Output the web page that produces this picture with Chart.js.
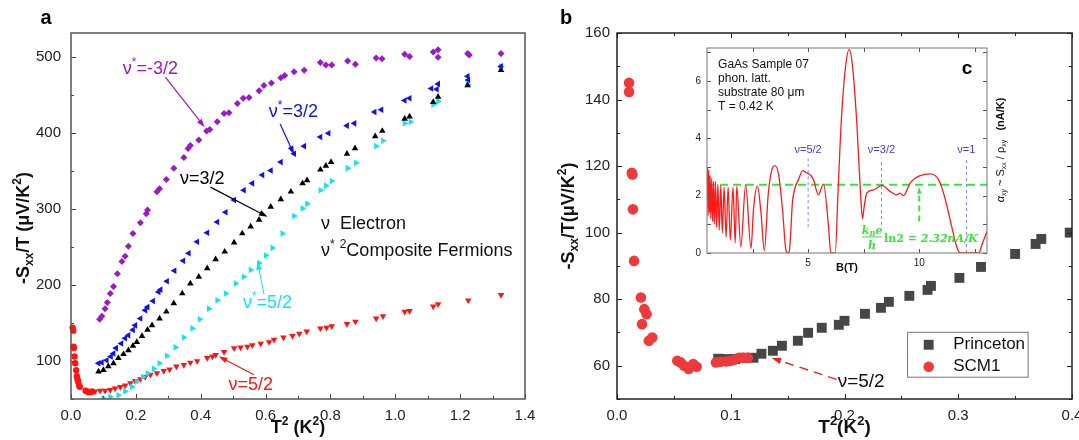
<!DOCTYPE html>
<html>
<head>
<meta charset="utf-8">
<script src="https://cdn.jsdelivr.net/npm/chart.js@4.4.1/dist/chart.umd.min.js"></script>
<style>
  body { margin: 0; background: #fff; width: 1079px; height: 440px; position: relative; overflow: hidden; }
  canvas { position: absolute; }
  #chartA { left: 0; top: 0; }
  #chartB { left: 540px; top: 0; }
  #chartC { left: 685px; top: 40px; }
</style>
</head>
<body>
<canvas id="chartA" width="540" height="440"></canvas>
<canvas id="chartB" width="539" height="440"></canvas>
<canvas id="chartC" width="327" height="240"></canvas>
<script>
const FONT = "'Liberation Sans', Arial, sans-serif";

// ---- panel a : [T^2 (K^2), -Sxx/T (uV/K^2)]
const cfMinus3_2 = [[0.088,155],[0.095,159],[0.105,169],[0.112,177],[0.121,189],[0.131,198],[0.143,215],[0.157,231],[0.167,238],[0.177,251],[0.191,268],[0.214,282],[0.232,294],[0.236,299],[0.265,323],[0.273,327],[0.294,339],[0.317,354],[0.348,368],[0.361,380],[0.368,384],[0.394,391],[0.418,403],[0.428,405],[0.451,415],[0.472,426],[0.487,427],[0.513,439],[0.531,446],[0.549,447],[0.58,456],[0.595,463],[0.618,466],[0.647,473],[0.659,476],[0.688,481],[0.719,483],[0.769,493],[0.786,490],[0.804,490],[0.853,495],[0.877,491],[0.941,499],[0.959,498],[1.029,504],[1.044,501],[1.117,507],[1.132,510],[1.132,500],[1.223,505],[1.228,503],[1.326,505]];
const cf3_2 = [[0.085,97],[0.095,98],[0.11,101],[0.123,106],[0.131,110],[0.139,117],[0.155,123],[0.167,130],[0.177,134],[0.191,141],[0.198,147],[0.214,156],[0.229,167],[0.236,171],[0.253,179],[0.27,191],[0.276,194],[0.296,205],[0.319,219],[0.346,232],[0.363,242],[0.389,257],[0.42,269],[0.451,283],[0.477,296],[0.503,312],[0.533,325],[0.559,334],[0.59,345],[0.616,351],[0.647,362],[0.688,373],[0.719,383],[0.769,395],[0.794,400],[0.851,410],[0.874,413],[0.936,428],[0.957,431],[1.029,443],[1.044,446],[1.111,459],[1.128,458],[1.132,465],[1.223,475],[1.225,470],[1.326,488]];
const el3_2 = [[0.085,86],[0.1,88],[0.115,93],[0.131,97],[0.146,104],[0.162,109],[0.177,114],[0.191,120],[0.203,125],[0.219,133],[0.236,141],[0.25,147],[0.273,156],[0.294,165],[0.317,176],[0.343,189],[0.368,202],[0.394,211],[0.42,222],[0.446,234],[0.474,244],[0.503,256],[0.528,268],[0.554,277],[0.58,286],[0.616,303],[0.647,313],[0.678,323],[0.714,334],[0.728,338],[0.769,352],[0.786,357],[0.802,362],[0.851,373],[0.876,380],[0.938,396],[0.96,403],[1.029,419],[1.044,422],[1.117,441],[1.132,448],[1.223,463],[1.326,483]];
const cf5_2 = [[0.1,51],[0.121,53],[0.146,55],[0.167,60],[0.188,66],[0.203,73],[0.222,79],[0.236,84],[0.255,90],[0.273,97],[0.296,107],[0.322,118],[0.348,131],[0.374,143],[0.397,155],[0.425,169],[0.451,180],[0.477,189],[0.508,202],[0.533,211],[0.554,220],[0.58,229],[0.601,239],[0.621,249],[0.652,268],[0.688,291],[0.714,301],[0.728,307],[0.769,325],[0.786,331],[0.804,337],[0.853,354],[0.879,361],[0.941,383],[0.962,390],[1.029,413],[1.047,415],[1.117,438],[1.132,442],[1.223,464],[1.326,488]];
const el5_2 = [[0.074,60],[0.09,61],[0.105,61],[0.121,62],[0.136,64],[0.152,66],[0.167,68],[0.183,71],[0.198,74],[0.214,76],[0.229,79],[0.245,82],[0.265,84],[0.286,87],[0.304,89],[0.325,93],[0.348,95],[0.368,98],[0.389,100],[0.42,104],[0.436,106],[0.446,108],[0.472,112],[0.503,117],[0.523,118],[0.544,119],[0.559,121],[0.585,123],[0.611,125],[0.626,128],[0.655,131],[0.683,133],[0.704,136],[0.727,139],[0.769,143],[0.788,144],[0.804,146],[0.851,149],[0.877,152],[0.941,156],[0.962,159],[1.029,165],[1.044,166],[1.117,172],[1.132,175],[1.225,180],[1.326,187]];
const el5_2Low = [[0.005,144],[0.007,140],[0.008,119],[0.009,117],[0.011,106],[0.013,97],[0.016,88],[0.018,80],[0.02,76],[0.022,73],[0.025,68],[0.027,66],[0.045,61],[0.05,60],[0.055,59],[0.06,59],[0.065,60]];

// ---- panel b
const princeton = [[0.089,62.1],[0.097,62],[0.104,62],[0.112,62.4],[0.12,62.4],[0.127,63.6],[0.137,64.5],[0.145,66],[0.159,67.5],[0.168,69.9],[0.18,71.4],[0.195,72.3],[0.2,73.5],[0.218,75.6],[0.232,77.4],[0.239,79.2],[0.257,81],[0.273,82.8],[0.276,84],[0.301,86.4],[0.32,89.7],[0.35,93.6],[0.368,96.6],[0.373,98.1],[0.398,100]];
const scm1 = [[0.0106,145],[0.0106,142.3],[0.013,118],[0.0135,117.5],[0.014,107],[0.015,91.5],[0.021,80.5],[0.024,77],[0.026,75.5],[0.022,72.5],[0.028,67.5],[0.031,68.5],[0.053,61.5],[0.056,61],[0.059,60],[0.063,59],[0.067,60.5],[0.07,59.7],[0.087,61],[0.091,61.2],[0.096,61.3],[0.1,61.5],[0.103,61.8],[0.107,62.4],[0.111,62.4],[0.115,62.4]];

// ---- panel c (inset): B (T) and alpha_xy (nA/K)
const fieldB = [0.47,0.5,0.53,0.56,0.59,0.62,0.66,0.7,0.74,0.78,0.83,0.88,0.94,1.0,1.07,1.14,1.22,1.31,1.4,1.5,1.62,1.72,1.79,1.97,2.19,2.43,2.55,2.72,2.88,3.03,3.2,3.35,3.51,3.68,3.85,4.0,4.07,4.15,4.3,4.41,4.56,4.76,4.92,5.09,5.24,5.46,5.69,5.92,6.02,6.22,6.35,6.5,6.7,6.85,7.0,7.19,7.35,7.45,7.52,7.64,7.94,8.32,8.69,8.99,9.14,9.29,9.59,10.05,10.5,10.87,11.05,11.25,11.5,11.7,11.85,12.67,12.85,13.05];
const alphaXY = [3.0,1.3,2.9,1.4,2.7,1.2,2.6,1.1,2.5,1.0,2.5,0.9,2.4,0.8,2.35,0.7,2.3,0.55,2.3,0.45,2.3,0.35,2.33,0.21,2.38,0.16,1.6,2.33,1.4,0.08,2.0,2.85,3.05,2.7,1.5,0.1,0,0.05,1.8,2.27,2.55,2.87,2.8,2.73,2.56,2.03,2.4,0.92,0,0,2.2,4.7,6.6,7.1,6.5,4.55,2.2,1.2,1.6,2.09,2.2,2.36,2.15,2.03,2.09,2.0,2.44,2.7,2.76,2.56,2.2,1.63,0.8,0.18,0,0,0.35,0.76];
const plateau = 2.38;
const fillingB = [5.0, 8.3, 12.12];
const fillingLabels = ['ν=5/2', 'ν=3/2', 'ν=1'];
const fillingFrom = [0.9, 0.98, 0];

// tick labels
const aXLabels = [0, 0.2, 0.4, 0.6, 0.8, 1.0, 1.2, 1.4];
const aYLabels = [100, 200, 300, 400, 500];
const bXLabels = [0, 0.1, 0.2, 0.3, 0.4];
const bYLabels = [60, 80, 100, 120, 140, 160];
const cXLabels = [5, 10];
const cYLabels = [0, 2, 4, 6];

const PURPLE = '#9b19c9', BLUE = '#1010f0', CYAN = '#12e2f5', RED = '#ff1414';

const toPts = arr => arr.map(([x, y]) => ({ x, y }));
const labelIf = (list, digits) => v => list.some(l => Math.abs(l - v) < 1e-6) ? Number(v).toFixed(digits) : '';

function marks(arr, color, style, rot, r) {
  return { data: toPts(arr), backgroundColor: color, borderColor: color, pointBorderWidth: 0,
           pointStyle: style, rotation: rot, pointRadius: r, showLine: false };
}

function drawRich(ctx, parts, x, y, o) {
  const fam = o.family || FONT;
  const fontOf = p => `${(p.italic || o.italic) ? 'italic ' : ''}${p.bold ? 'bold' : (o.weight || 'normal')} ${(p.sub || p.sup) ? Math.round(o.size * 0.68) : o.size}px ${p.family || fam}`;
  let w = 0;
  parts.forEach(p => { ctx.font = fontOf(p); p._w = ctx.measureText(p.t).width; w += p._w; });
  let cx = o.align === 'center' ? x - w / 2 : (o.align === 'right' ? x - w : x);
  ctx.fillStyle = o.color || '#000';
  ctx.textBaseline = 'middle';
  ctx.textAlign = 'left';
  parts.forEach(p => {
    ctx.font = fontOf(p);
    const dy = p.sub ? o.size * 0.3 : (p.sup ? -o.size * 0.35 : 0);
    ctx.fillText(p.t, cx, y + dy);
    cx += p._w;
  });
}

function drawRotated(ctx, parts, x, y, o) {
  ctx.save();
  ctx.translate(x, y);
  ctx.rotate(-Math.PI / 2);
  drawRich(ctx, parts, 0, 0, Object.assign({ align: 'center' }, o));
  ctx.restore();
}

function arrow(ctx, x1, y1, x2, y2, color, o = {}) {
  ctx.save();
  ctx.strokeStyle = color; ctx.fillStyle = color; ctx.lineWidth = o.width || 1.2;
  const ang = Math.atan2(y2 - y1, x2 - x1), h = o.head || 9;
  if (o.dash) ctx.setLineDash(o.dash);
  ctx.beginPath(); ctx.moveTo(x1, y1);
  ctx.lineTo(x2 - Math.cos(ang) * h * 0.8, y2 - Math.sin(ang) * h * 0.8); ctx.stroke();
  ctx.setLineDash([]);
  ctx.beginPath(); ctx.moveTo(x2, y2);
  ctx.lineTo(x2 - h * Math.cos(ang - 0.33), y2 - h * Math.sin(ang - 0.33));
  ctx.lineTo(x2 - h * Math.cos(ang + 0.33), y2 - h * Math.sin(ang + 0.33));
  ctx.closePath(); ctx.fill();
  ctx.restore();
}

// inward ticks + frame
const inTicks = {
  id: 'inTicks',
  beforeDraw(chart, args, opts) {
    if (!opts.fill) return;
    const { ctx, chartArea: a } = chart;
    ctx.save(); ctx.fillStyle = opts.fill;
    ctx.fillRect(a.left, a.top, a.right - a.left, a.bottom - a.top);
    ctx.restore();
  },
  afterDraw(chart, args, opts) {
    const { ctx, chartArea: a } = chart;
    const xs = chart.scales.x, ys = chart.scales.y;
    ctx.save();
    ctx.strokeStyle = opts.color; ctx.lineWidth = 1;
    const seg = (x1, y1, x2, y2) => { ctx.beginPath(); ctx.moveTo(x1, y1); ctx.lineTo(x2, y2); ctx.stroke(); };
    xs.ticks.forEach(t => {
      const px = Math.round(xs.getPixelForValue(t.value)) + 0.5;
      const len = t.label !== '' ? opts.major : opts.minor;
      seg(px, a.bottom, px, a.bottom - len);
      if (opts.mirror) seg(px, a.top, px, a.top + len);
    });
    ys.ticks.forEach(t => {
      const py = Math.round(ys.getPixelForValue(t.value)) + 0.5;
      const len = t.label !== '' ? opts.major : opts.minor;
      seg(a.left, py, a.left + len, py);
      if (opts.mirror) seg(a.right, py, a.right - len, py);
    });
    ctx.lineWidth = opts.frameWidth;
    ctx.strokeStyle = opts.frame;
    ctx.strokeRect(a.left, a.top, a.right - a.left, a.bottom - a.top);
    ctx.restore();
  }
};
Chart.register(inTicks);

function axisOpts(min, max, step, labels, digits, size, pad, fitFn) {
  return {
    type: 'linear', min, max,
    grid: { display: false, drawTicks: false },
    border: { display: false },
    afterFit: fitFn,
    ticks: { stepSize: step, includeBounds: false, autoSkip: false, maxRotation: 0, padding: pad,
             color: '#222', font: { family: FONT, size }, callback: labelIf(labels, digits) }
  };
}

// ---------------- panel a
const notesA = {
  id: 'notesA',
  afterDatasetsDraw(chart) {
    const { ctx, scales: { x, y } } = chart;
    const X = v => x.getPixelForValue(v), Y = v => y.getPixelForValue(v);
    const star = [{ t: 'ν' }, { t: '*', sup: true }];
    drawRich(ctx, star.concat([{ t: '=-3/2' }]), X(0.245), Y(485), { size: 18, color: PURPLE, align: 'center' });
    arrow(ctx, X(0.291), Y(474), X(0.412), Y(408), PURPLE);
    drawRich(ctx, star.concat([{ t: '=3/2' }]), X(0.686), Y(428), { size: 18, color: BLUE, align: 'center' });
    arrow(ctx, X(0.645), Y(412), X(0.688), Y(372), BLUE);
    drawRich(ctx, [{ t: 'ν=3/2' }], X(0.405), Y(340), { size: 18, color: '#000', align: 'center' });
    arrow(ctx, X(0.43), Y(329), X(0.606), Y(290), '#000');
    drawRich(ctx, star.concat([{ t: '=5/2' }]), X(0.606), Y(176), { size: 18, color: CYAN, align: 'center' });
    arrow(ctx, X(0.595), Y(188), X(0.575), Y(231), CYAN, { width: 1 });
    drawRich(ctx, [{ t: 'ν=5/2' }], X(0.554), Y(68), { size: 18, color: RED, align: 'center' });
    arrow(ctx, X(0.564), Y(82), X(0.456), Y(106), RED);
    drawRich(ctx, [{ t: 'ν  Electron' }], X(0.771), Y(281), { size: 18, color: '#111' });
    drawRich(ctx, star.concat([{ t: ' ' }, { t: '2', sup: true }, { t: 'Composite Fermions' }]), X(0.771), Y(245), { size: 18, color: '#111' });
  },
  afterDraw(chart) {
    const { ctx, chartArea: a } = chart;
    drawRich(ctx, [{ t: 'a' }], 46, 18, { size: 20, weight: 'bold', align: 'center' });
    drawRotated(ctx, [{ t: '-S' }, { t: 'xx', sub: true }, { t: '/T (μV/K' }, { t: '2', sup: true }, { t: ')' }], 24, 228, { size: 18, weight: 'bold', color: '#111' });
    drawRich(ctx, [{ t: 'T' }, { t: '2', sup: true }, { t: ' (K' }, { t: '2', sup: true }, { t: ')' }], (a.left + a.right) / 2, 428, { size: 18, weight: 'bold', align: 'center', color: '#111' });
  }
};

new Chart(document.getElementById('chartA'), {
  type: 'scatter',
  data: { datasets: [
    marks(cfMinus3_2, PURPLE, 'rectRot', 0, 3.5),
    marks(cf3_2, BLUE, 'triangle', 270, 3.8),
    marks(el3_2, '#000', 'triangle', 0, 3.8),
    marks(cf5_2, CYAN, 'triangle', 90, 3.8),
    marks(el5_2, RED, 'triangle', 180, 3.8),
    Object.assign(marks(el5_2Low, RED, 'circle', 0, 3.2), { clip: 6 })
  ] },
  options: {
    responsive: false, animation: false,
    layout: { padding: { top: 33, right: 15, left: 0, bottom: 0 } },
    plugins: {
      legend: { display: false }, tooltip: { enabled: false },
      inTicks: { color: '#444', frame: '#555', frameWidth: 1.5, major: 5, minor: 3, mirror: false }
    },
    scales: {
      x: axisOpts(0, 1.4, 0.1, aXLabels, 1, 15, 8, s => { s.height = 41; s.paddingLeft = 0; s.paddingRight = 0; }),
      y: axisOpts(50, 532, 50, aYLabels, 0, 15, 10, s => { s.width = 71; s.paddingTop = 0; s.paddingBottom = 0; })
    }
  },
  plugins: [notesA]
});

// ---------------- panel b
const notesB = {
  id: 'notesB',
  afterDatasetsDraw(chart) {
    const { ctx, scales: { x, y } } = chart;
    const X = v => x.getPixelForValue(v), Y = v => y.getPixelForValue(v);
    arrow(ctx, X(0.193), Y(55.9), X(0.136), Y(62.3), '#ee2222', { dash: [9, 6], width: 1.4, head: 10 });
    drawRich(ctx, [{ t: 'ν=5/2' }], X(0.194), Y(55.1), { size: 19, color: '#111' });
    // legend box
    ctx.save();
    ctx.strokeStyle = '#777'; ctx.lineWidth = 1;
    ctx.fillStyle = '#fff';
    const bx = X(0.255), by = Y(70.2), bw = X(0.361) - bx, bh = Y(56.7) - by;
    ctx.fillRect(bx, by, bw, bh); ctx.strokeRect(bx + 0.5, by + 0.5, bw, bh);
    ctx.fillStyle = '#464646';
    Chart.helpers.drawPoint(ctx, { pointStyle: 'rect', radius: 7, rotation: 0, borderWidth: 0 }, X(0.274), Y(66.3));
    ctx.fillStyle = '#ee3a3a';
    Chart.helpers.drawPoint(ctx, { pointStyle: 'circle', radius: 5.3, rotation: 0, borderWidth: 0 }, X(0.274), Y(59.7));
    ctx.restore();
    drawRich(ctx, [{ t: 'Princeton' }], X(0.2956), Y(66.3), { size: 17, color: '#111' });
    drawRich(ctx, [{ t: 'SCM1' }], X(0.2956), Y(59.7), { size: 17, color: '#111' });
  },
  afterDraw(chart) {
    const { ctx, chartArea: a } = chart;
    drawRich(ctx, [{ t: 'b' }], 26, 18, { size: 20, weight: 'bold', align: 'center' });
    drawRotated(ctx, [{ t: '-S' }, { t: 'xx', sub: true }, { t: '/T(μV/K' }, { t: '2', sup: true }, { t: ')' }], 29, 216, { size: 18, weight: 'bold', color: '#111' });
    drawRich(ctx, [{ t: 'T' }, { t: '2', sup: true }, { t: '(K' }, { t: '2', sup: true }, { t: ')' }], (a.left + a.right) / 2, 428, { size: 19, weight: 'bold', align: 'center', color: '#111' });
  }
};

new Chart(document.getElementById('chartB'), {
  type: 'scatter',
  data: { datasets: [
    Object.assign(marks(scm1, '#ee3a3a', 'circle', 0, 5.3), { clip: 8 }),
    marks(princeton, '#464646', 'rect', 0, 7)
  ] },
  options: {
    responsive: false, animation: false,
    layout: { padding: { top: 33, right: 7, left: 0, bottom: 0 } },
    plugins: {
      legend: { display: false }, tooltip: { enabled: false },
      inTicks: { color: '#222', frame: '#222', frameWidth: 1.5, major: 5, minor: 3, mirror: true }
    },
    scales: {
      x: axisOpts(0, 0.4, 0.05, bXLabels, 1, 15, 8, s => { s.height = 41; s.paddingLeft = 0; s.paddingRight = 0; }),
      y: axisOpts(50, 160, 10, bYLabels, 0, 15, 7, s => { s.width = 77; s.paddingTop = 0; s.paddingBottom = 0; })
    }
  },
  plugins: [notesB]
});

// ---------------- panel c (inset)
const GREEN = '#3ee03e';
const notesC = {
  id: 'notesC',
  afterDatasetsDraw(chart) {
    const { ctx, scales: { x, y } } = chart;
    const X = v => x.getPixelForValue(v), Y = v => y.getPixelForValue(v);
    ['GaAs Sample 07', 'phon. latt.', 'substrate 80 μm', 'T = 0.42 K'].forEach((s, i) => {
      drawRich(ctx, [{ t: s }], X(0.95), Y([6.56, 6.07, 5.59, 5.12][i]), { size: 12, color: '#111' });
    });
    drawRich(ctx, [{ t: 'c' }], X(12.15), Y(6.42), { size: 19, weight: 'bold', align: 'center' });
    fillingB.forEach((b, i) => {
      drawRich(ctx, [{ t: fillingLabels[i] }], X(b), Y(3.61), { size: 11, color: '#3b3bf0', align: 'center' });
    });
    arrow(ctx, X(10), Y(1.1), X(10), Y(2.3), GREEN, { dash: [6, 4], width: 2, head: 7 });
    const serif = "'DejaVu Serif', 'Liberation Serif', serif";
    const fx = X(7.88);
    drawRich(ctx, [{ t: 'k', italic: true }, { t: 'B', sub: true, italic: true }, { t: 'e', italic: true }], fx, Y(0.76), { size: 11, color: GREEN, align: 'center', family: serif, weight: 'bold' });
    ctx.save(); ctx.strokeStyle = GREEN; ctx.lineWidth = 1;
    ctx.beginPath(); ctx.moveTo(fx - 10, Y(0.56)); ctx.lineTo(fx + 10, Y(0.56)); ctx.stroke(); ctx.restore();
    drawRich(ctx, [{ t: 'h', italic: true }], fx, Y(0.24), { size: 11, color: GREEN, align: 'center', family: serif, weight: 'bold' });
    drawRich(ctx, [{ t: 'ln2 = ' }, { t: '2.32', italic: true }, { t: 'nA/K', italic: true }], X(8.42), Y(0.5), { size: 11, color: GREEN, family: serif, weight: 'bold' });
  },
  afterDraw(chart) {
    const { ctx, chartArea: a } = chart;
    drawRich(ctx, [{ t: 'B(T)' }], (a.left + a.right) / 2, 228, { size: 11, weight: 'bold', align: 'center', color: '#111' });
    drawRotated(ctx, [{ t: 'α', italic: true }, { t: 'xy', sub: true, italic: true }, { t: ' ~ S' }, { t: 'xx', sub: true }, { t: ' / ρ' }, { t: 'xy', sub: true }, { t: '   (nA/K)', bold: true }], 316, 110, { size: 11, color: '#111' });
  }
};

const lineSet = (pts, color, width, dash) => ({
  data: pts, showLine: true, pointRadius: 0, borderColor: color, borderWidth: width, borderDash: dash || [], fill: false
});

new Chart(document.getElementById('chartC'), {
  type: 'scatter',
  data: { datasets: [
    Object.assign(lineSet(fieldB.map((b, i) => ({ x: b, y: alphaXY[i] })), '#ff1a1a', 1.3), { cubicInterpolationMode: 'monotone' }),
    lineSet([{ x: 0.45, y: plateau }, { x: 13.05, y: plateau }], GREEN, 2, [8, 5]),
    ...fillingB.map((b, i) => lineSet([{ x: b, y: fillingFrom[i] }, { x: b, y: 3.3 }], '#5a6af5', 0.8, [3, 3]))
  ] },
  options: {
    responsive: false, animation: false,
    layout: { padding: { top: 8, right: 25, left: 0, bottom: 0 } },
    plugins: {
      legend: { display: false }, tooltip: { enabled: false },
      inTicks: { color: '#555', frame: '#777', frameWidth: 1, major: 4, minor: 4, mirror: true, fill: '#fff' }
    },
    scales: {
      x: axisOpts(0.45, 13.05, 2.5, cXLabels, 0, 10, 4, s => { s.height = 27; s.paddingLeft = 0; s.paddingRight = 0; }),
      y: axisOpts(0, 7.15, 1, cYLabels, 0, 10, 6, s => { s.width = 22; s.paddingTop = 0; s.paddingBottom = 0; })
    }
  },
  plugins: [notesC]
});
</script>
</body>
</html>
